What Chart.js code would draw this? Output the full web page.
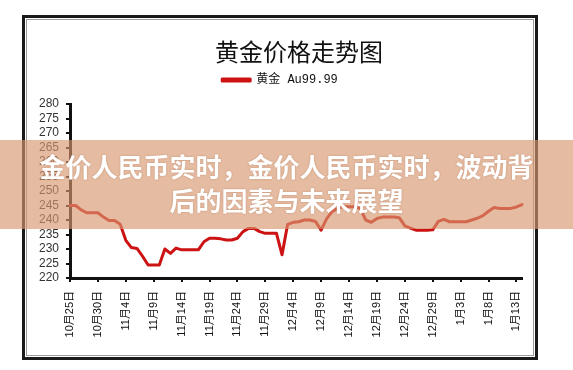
<!DOCTYPE html>
<html><head><meta charset="utf-8">
<script src="https://cdn.jsdelivr.net/npm/chart.js@4.4.1/dist/chart.umd.min.js"></script>
<style>
html,body{margin:0;padding:0;background:#fff;}
#wrap{position:relative;width:573px;height:370px;overflow:hidden;background:#fff;}
#frame{position:absolute;left:22px;top:15px;width:510px;height:339px;border:3px solid #1a1a1a;box-shadow:inset 0 0 0 1px #fff, inset 0 0 0 2px #9a9a9a;background:#fff;}
#c{position:absolute;left:0;top:0;}
#title{position:absolute;left:199px;width:200px;top:36px;text-align:center;font-family:"Noto Sans CJK SC";font-size:24px;line-height:30px;color:#111;}
#band{position:absolute;left:0;top:140px;width:573px;height:89px;background:rgba(215,150,110,0.65);}
#bandtext{position:absolute;left:0;top:149px;width:573px;text-align:center;font-family:"Noto Sans CJK SC";font-weight:700;font-size:26px;line-height:34px;color:#fff;text-shadow:0 0 2px rgba(120,60,30,0.35);}
</style></head>
<body><div id="wrap">
<div id="frame"></div>
<canvas id="c" width="573" height="370"></canvas>
<div id="title">黄金价格走势图</div>
<div id="band"></div>
<div id="bandtext">金价人民币实时，金价人民币实时，波动背<br>后的因素与未来展望</div>
</div>
<script>
const octDays = ["10月25日","10月26日","10月27日","10月28日","10月29日","10月30日","10月31日"];
const novDays = ["11月1日","11月2日","11月3日","11月4日","11月5日","11月6日","11月7日","11月8日","11月9日","11月10日",
  "11月11日","11月12日","11月13日","11月14日","11月15日","11月16日","11月17日","11月18日","11月19日","11月20日",
  "11月21日","11月22日","11月23日","11月24日","11月25日","11月26日","11月27日","11月28日","11月29日","11月30日"];
const decDays = ["12月1日","12月2日","12月3日","12月4日","12月5日","12月6日","12月7日","12月8日","12月9日","12月10日",
  "12月11日","12月12日","12月13日","12月14日","12月15日","12月16日","12月17日","12月18日","12月19日","12月20日",
  "12月21日","12月22日","12月23日","12月24日","12月25日","12月26日","12月27日","12月28日","12月29日","12月30日","12月31日"];
const janDays = ["1月1日","1月2日","1月3日","1月4日","1月5日","1月6日","1月7日","1月8日","1月9日","1月10日","1月11日","1月12日","1月13日","1月14日"];
const categories = octDays.concat(novDays, decDays, janDays);

const seriesName = "黄金 Au99.99";
const goldPrice = [
  245, 245, 243.5, 242.5, 242.5, 242.5, 241, 239.8, 239.8, 238.5,
  233, 230.5, 230.2, 227.5, 224.5, 224.5, 224.5, 230, 228.5, 230.3,
  229.7, 229.7, 229.7, 229.7, 232.5, 233.7, 233.7, 233.5, 233.1, 233.1,
  233.7, 236, 237.1, 237.1, 236, 235.4, 235.4, 235.4, 228, 238.5,
  239.2, 239.4, 240, 240, 239.5, 236.5, 240.5, 243, 244, 244.6,
  244.6, 244.6, 244, 240, 239.2, 240.5, 241, 241, 241, 240.8,
  238, 237.2, 236.5, 236.5, 236.5, 236.6, 239.5, 240.2, 239.4, 239.4,
  239.4, 239.4, 240, 240.6, 241.5, 243, 244.3, 244, 244, 244,
  244.5, 245.3
];
const yTicks = [220, 225, 230, 235, 240, 245, 250, 255, 260, 265, 270, 275, 280];

const PAD_L = 38, PAD_R = 51, PAD_T = 64, PAD_B = 10, LEGEND_GAP = 8;
const legendGap = {
  id: 'legendGap',
  beforeLayout(chart) {
    const lg = chart.legend;
    if (lg && !lg._gapPatched) {
      const origFit = lg.fit;
      lg.fit = function() { origFit.call(this); this.height += LEGEND_GAP; };
      lg._gapPatched = true;
    }
  }
};
const chart = new Chart(document.getElementById('c'), {
  type: 'line',
  plugins: [legendGap],
  data: {
    labels: categories,
    datasets: [{
      label: seriesName,
      data: goldPrice,
      borderColor: '#cc1212',
      backgroundColor: '#cc1212',
      borderWidth: 3,
      pointRadius: 0,
      tension: 0,
      borderJoinStyle: 'round',
      borderCapStyle: 'round',
      clip: false
    }]
  },
  options: {
    responsive: false,
    animation: false,
    layout: { padding: { left: PAD_L, right: PAD_R, top: PAD_T, bottom: PAD_B } },
    plugins: {
      title: { display: false },
      tooltip: { enabled: false },
      legend: {
        display: true,
        position: 'top',
        labels: {
          boxWidth: 28, boxHeight: 2, padding: 10,
          color: '#111',
          font: { family: "'Liberation Mono','Noto Sans CJK SC'", size: 12 }
        }
      }
    },
    scales: {
      x: {
        type: 'category',
        offset: false,
        grid: { display: true, drawOnChartArea: false, tickLength: 4, color: '#111', lineWidth: 2 },
        border: { display: true, color: '#111', width: 3 },
        ticks: {
          autoSkip: false, minRotation: 90, maxRotation: 90, padding: 9,
          color: '#111',
          font: { family: "'Liberation Sans','Noto Sans CJK SC'", size: 11 },
          callback: function(v, i) { return i % 5 === 0 ? categories[i] : null; }
        },
        afterFit: function(s) { s.height = 370 - PAD_B - 278; }
      },
      y: {
        min: 220, max: 280,
        afterBuildTicks: function(s) { s.ticks = yTicks.map(v => ({ value: v })); },
        grid: { display: true, drawOnChartArea: false, tickLength: 4, color: '#111', lineWidth: 2 },
        border: { display: true, color: '#111', width: 3 },
        ticks: {
          autoSkip: false, padding: 7, color: '#333',
          font: { family: "'Liberation Sans'", size: 12 }
        },
        afterFit: function(s) { s.width = 70 - PAD_L; }
      }
    }
  }
});
</script>
</body></html>
